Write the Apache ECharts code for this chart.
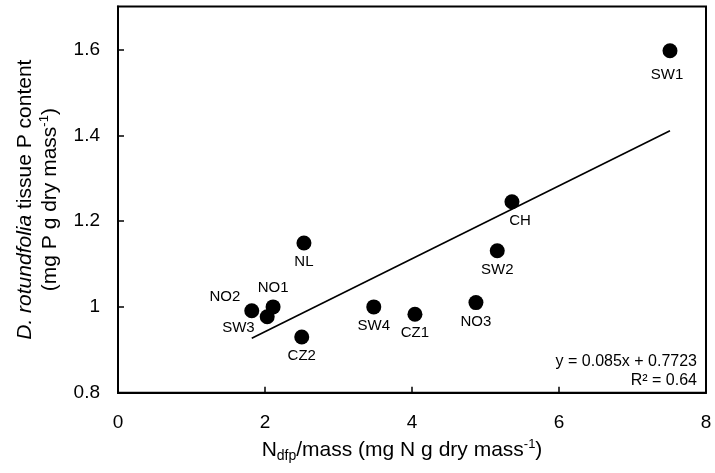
<!DOCTYPE html>
<html>
<head>
<meta charset="utf-8">
<script src="https://cdn.jsdelivr.net/npm/echarts@6/dist/echarts.min.js"></script>
<style>
  html, body { margin: 0; padding: 0; background: #fff; }
  #chart { width: 715px; height: 473px; }
</style>
</head>
<body>
<div id="chart"></div>
<script>
// site codes and measured values
const sites = ['SW1', 'CH', 'SW2', 'NO3', 'CZ1', 'SW4', 'NL', 'NO1', 'NO2', 'SW3', 'CZ2']
const nMass = [7.51, 5.36, 5.16, 4.87, 4.04, 3.48, 2.53, 2.11, 1.82, 2.03, 2.50]
const pContent = [1.597, 1.245, 1.131, 1.010, 0.983, 1.000, 1.149, 1.000, 0.991, 0.977, 0.930]

// linear fit shown in the figure
const slope = 0.085
const intercept = 0.7723
const rSquared = 0.64

const xTicks = [0, 2, 4, 6, 8]
const yTicks = [0.8, 1, 1.2, 1.4, 1.6]

const FONT = 'Liberation Sans, Arial, sans-serif'

// where each point label sits relative to its marker
const labelPlace = {
  SW1: {position: 'bottom', offset: [-3, 5]},
  CH: {position: 'bottom', offset: [8, 0]},
  NO1: {position: 'top', offset: [0, 0]},
  NO2: {position: 'left', offset: [0, -14]},
  SW3: {position: 'left', offset: [-1, 11]}
}

const points = sites.map((name, i) => {
  const place = labelPlace[name] || {position: 'bottom', offset: [0, 0]}
  return {
    name: name,
    value: [nMass[i], pContent[i]],
    label: {position: place.position, offset: place.offset}
  }
})

const xMin = Math.min(...nMass)
const xMax = Math.max(...nMass)
const fitLine = [
  [xMin, slope * xMin + intercept],
  [xMax, slope * xMax + intercept]
]

const chart = echarts.init(document.getElementById('chart'))

chart.setOption({
  animation: false,
  textStyle: {fontFamily: FONT},
  grid: {
    left: 118,
    right: 9,
    top: 6.6,
    bottom: 80.3,
    containLabel: false,
    outerBoundsMode: 'none',
    show: true,
    borderColor: '#000',
    borderWidth: 2
  },
  xAxis: {
    type: 'value',
    min: xTicks[0],
    max: xTicks[xTicks.length - 1],
    interval: 2,
    axisLine: {show: true, lineStyle: {color: '#000', width: 2}},
    axisTick: {show: true, inside: true, length: 6, lineStyle: {color: '#000', width: 1.5}},
    axisLabel: {color: '#000', fontSize: 19, margin: 21, fontFamily: FONT},
    splitLine: {show: false},
    name: '{n|N}{sub|dfp}{n|/mass (mg N g dry mass}{sup|-1}{n|)}',
    nameLocation: 'middle',
    nameGap: 43,
    nameTextStyle: {
      padding: [0, 20, 0, 0],
      rich: {
        n: {fontSize: 21, color: '#000', fontFamily: FONT, lineHeight: 26},
        sub: {fontSize: 14, color: '#000', fontFamily: FONT, verticalAlign: 'bottom', lineHeight: 20},
        sup: {fontSize: 13, color: '#000', fontFamily: FONT, verticalAlign: 'top', lineHeight: 22}
      }
    }
  },
  yAxis: {
    type: 'value',
    min: yTicks[0],
    max: 1.7,
    interval: 0.2,
    axisLine: {show: true, lineStyle: {color: '#000', width: 2}},
    axisTick: {show: true, inside: true, length: 6, lineStyle: {color: '#000', width: 1.5}},
    axisLabel: {
      color: '#000',
      fontSize: 19,
      margin: 18,
      fontFamily: FONT,
      showMaxLabel: false,
      formatter: v => (yTicks.some(t => Math.abs(t - v) < 1e-6) ? String(+v.toFixed(1)) : '')
    },
    splitLine: {show: false},
    name: '{i|D. rotundfolia}{n| tissue P content}\n{n|(mg P g dry mass}{sup|-1}{n|)}',
    nameLocation: 'middle',
    nameRotate: 90,
    nameGap: 55,
    nameTextStyle: {
      align: 'center',
      rich: {
        i: {fontSize: 21, fontStyle: 'italic', color: '#000', fontFamily: FONT, lineHeight: 25},
        n: {fontSize: 21, color: '#000', fontFamily: FONT, lineHeight: 25},
        sup: {fontSize: 13, color: '#000', fontFamily: FONT, verticalAlign: 'top', lineHeight: 21}
      }
    }
  },
  series: [
    {
      type: 'line',
      data: fitLine,
      symbol: 'none',
      silent: true,
      lineStyle: {color: '#000', width: 1.6},
      z: 1
    },
    {
      type: 'scatter',
      data: points,
      symbol: 'circle',
      symbolSize: 15,
      itemStyle: {color: '#000', opacity: 1},
      label: {
        show: true,
        formatter: '{b}',
        color: '#000',
        fontSize: 15,
        fontFamily: FONT,
        distance: 4
      },
      z: 2
    }
  ],
  graphic: [
    {
      type: 'text',
      right: 18,
      top: 352,
      style: {
        text: 'y = ' + slope + 'x + ' + intercept + '\nR² = ' + rSquared.toFixed(2),
        fill: '#000',
        font: '16px ' + FONT,
        textAlign: 'right',
        lineHeight: 19
      }
    }
  ]
})
</script>
</body>
</html>
